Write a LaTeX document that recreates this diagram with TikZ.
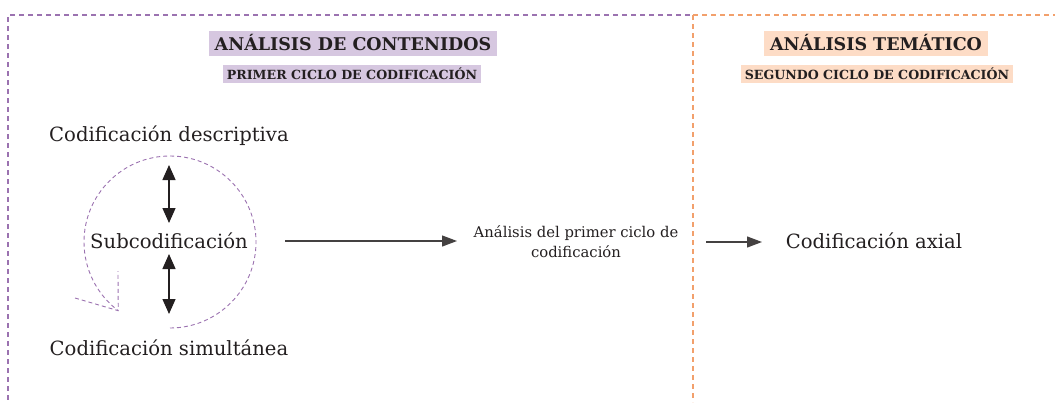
\documentclass[tikz,border=0pt]{standalone}
\usepackage{fontspec}
\setmainfont{DejaVu Serif}
\usetikzlibrary{arrows.meta}
\definecolor{purpline}{HTML}{9B72B0}
\definecolor{purpbg}{HTML}{D6C7E0}
\definecolor{orline}{HTML}{F2A06C}
\definecolor{orbg}{HTML}{FDDCC6}
\definecolor{ink}{HTML}{231F20}
\begin{document}
\begin{tikzpicture}[x=1pt,y=-1pt,
  framep/.style={draw=purpline,line width=1.2pt,dash pattern=on 5pt off 4pt},
  frameo/.style={draw=orline,line width=1.2pt,dash pattern=on 5pt off 4pt},
  titlep/.style={fill=purpbg,text=ink,font=\bfseries\fontsize{17.5}{20}\selectfont,inner xsep=6pt,minimum height=25pt},
  titleo/.style={fill=orbg,text=ink,font=\bfseries\fontsize{17.5}{20}\selectfont,inner xsep=6pt,minimum height=25pt},
  subp/.style={fill=purpbg,text=ink,font=\bfseries\fontsize{12.6}{14}\selectfont,inner xsep=4pt,minimum height=18pt},
  subo/.style={fill=orbg,text=ink,font=\bfseries\fontsize{12.6}{14}\selectfont,inner xsep=4pt,minimum height=18pt},
  big/.style={text=ink,font=\fontsize{19.6}{23}\selectfont,inner sep=1pt},
  small/.style={text=ink,font=\fontsize{14.8}{20}\selectfont,align=center,inner sep=1pt},
  dbl/.style={draw=ink,line width=1.4pt,{Triangle[length=15pt,width=13pt]}-{Triangle[length=15pt,width=13pt]}},
  arr/.style={draw=ink!85,line width=1.2pt,-{Triangle[length=15pt,width=11pt]}},
  cyc/.style={draw=purpline,line width=0.9pt,dash pattern=on 4pt off 3pt}
]
\useasboundingbox (0,0) rectangle (1055,402);
% frames
\coordinate (pa) at (690,15);
\coordinate (pb) at (8,15);
\coordinate (pc) at (8,402);
\coordinate (oa) at (693,15);
\coordinate (ob) at (1055,15);
\coordinate (oc) at (693,402);
\draw[framep] (pa) -- (pb) -- (pc);
\draw[frameo] (oa) -- (ob);
\draw[frameo] (oa) -- (oc);
% titles
\node[titlep] (t1) at (353,43) {ANÁLISIS DE CONTENIDOS};
\node[subp] (s1) at (352,74) {PRIMER CICLO DE CODIFICACIÓN};
\node[titleo] (t2) at (876,43) {ANÁLISIS TEMÁTICO};
\node[subo] (s2) at (877,74) {SEGUNDO CICLO DE CODIFICACIÓN};
% left block
\node[big] (desc) at (169,136) {Codificación descriptiva};
\node[big] (sub) at (169,241) {Subcodificación};
\node[big] (sim) at (169,348) {Codificación simultánea};
\draw[dbl,shorten <=29pt,shorten >=18pt] (desc.center) -- (sub.center);
\draw[dbl,shorten <=13pt,shorten >=34pt] (sub.center) -- (sim.center);
% cycle
\coordinate (cc) at (170,242);
\draw[cyc] (cc) ++(-90:86pt) arc[start angle=-90,end angle=233,radius=86pt] coordinate (tip);
\coordinate (arm1) at (75,298);
\coordinate (arm2) at (118,271);
\draw[cyc] (arm1) -- (tip) -- (arm2);
% middle
\node[small] (anal) at (576,242) {Análisis del primer ciclo de\\codificación};
\node[big] (axial) at (874,241) {Codificación axial};
\draw[arr,shorten <=116pt,shorten >=119pt] (sub.center) -- (sub.center -| anal.center);
\draw[arr,shorten <=130pt,shorten >=112pt] (anal.center) -- (anal.center -| axial.center);
\end{tikzpicture}
\end{document}
